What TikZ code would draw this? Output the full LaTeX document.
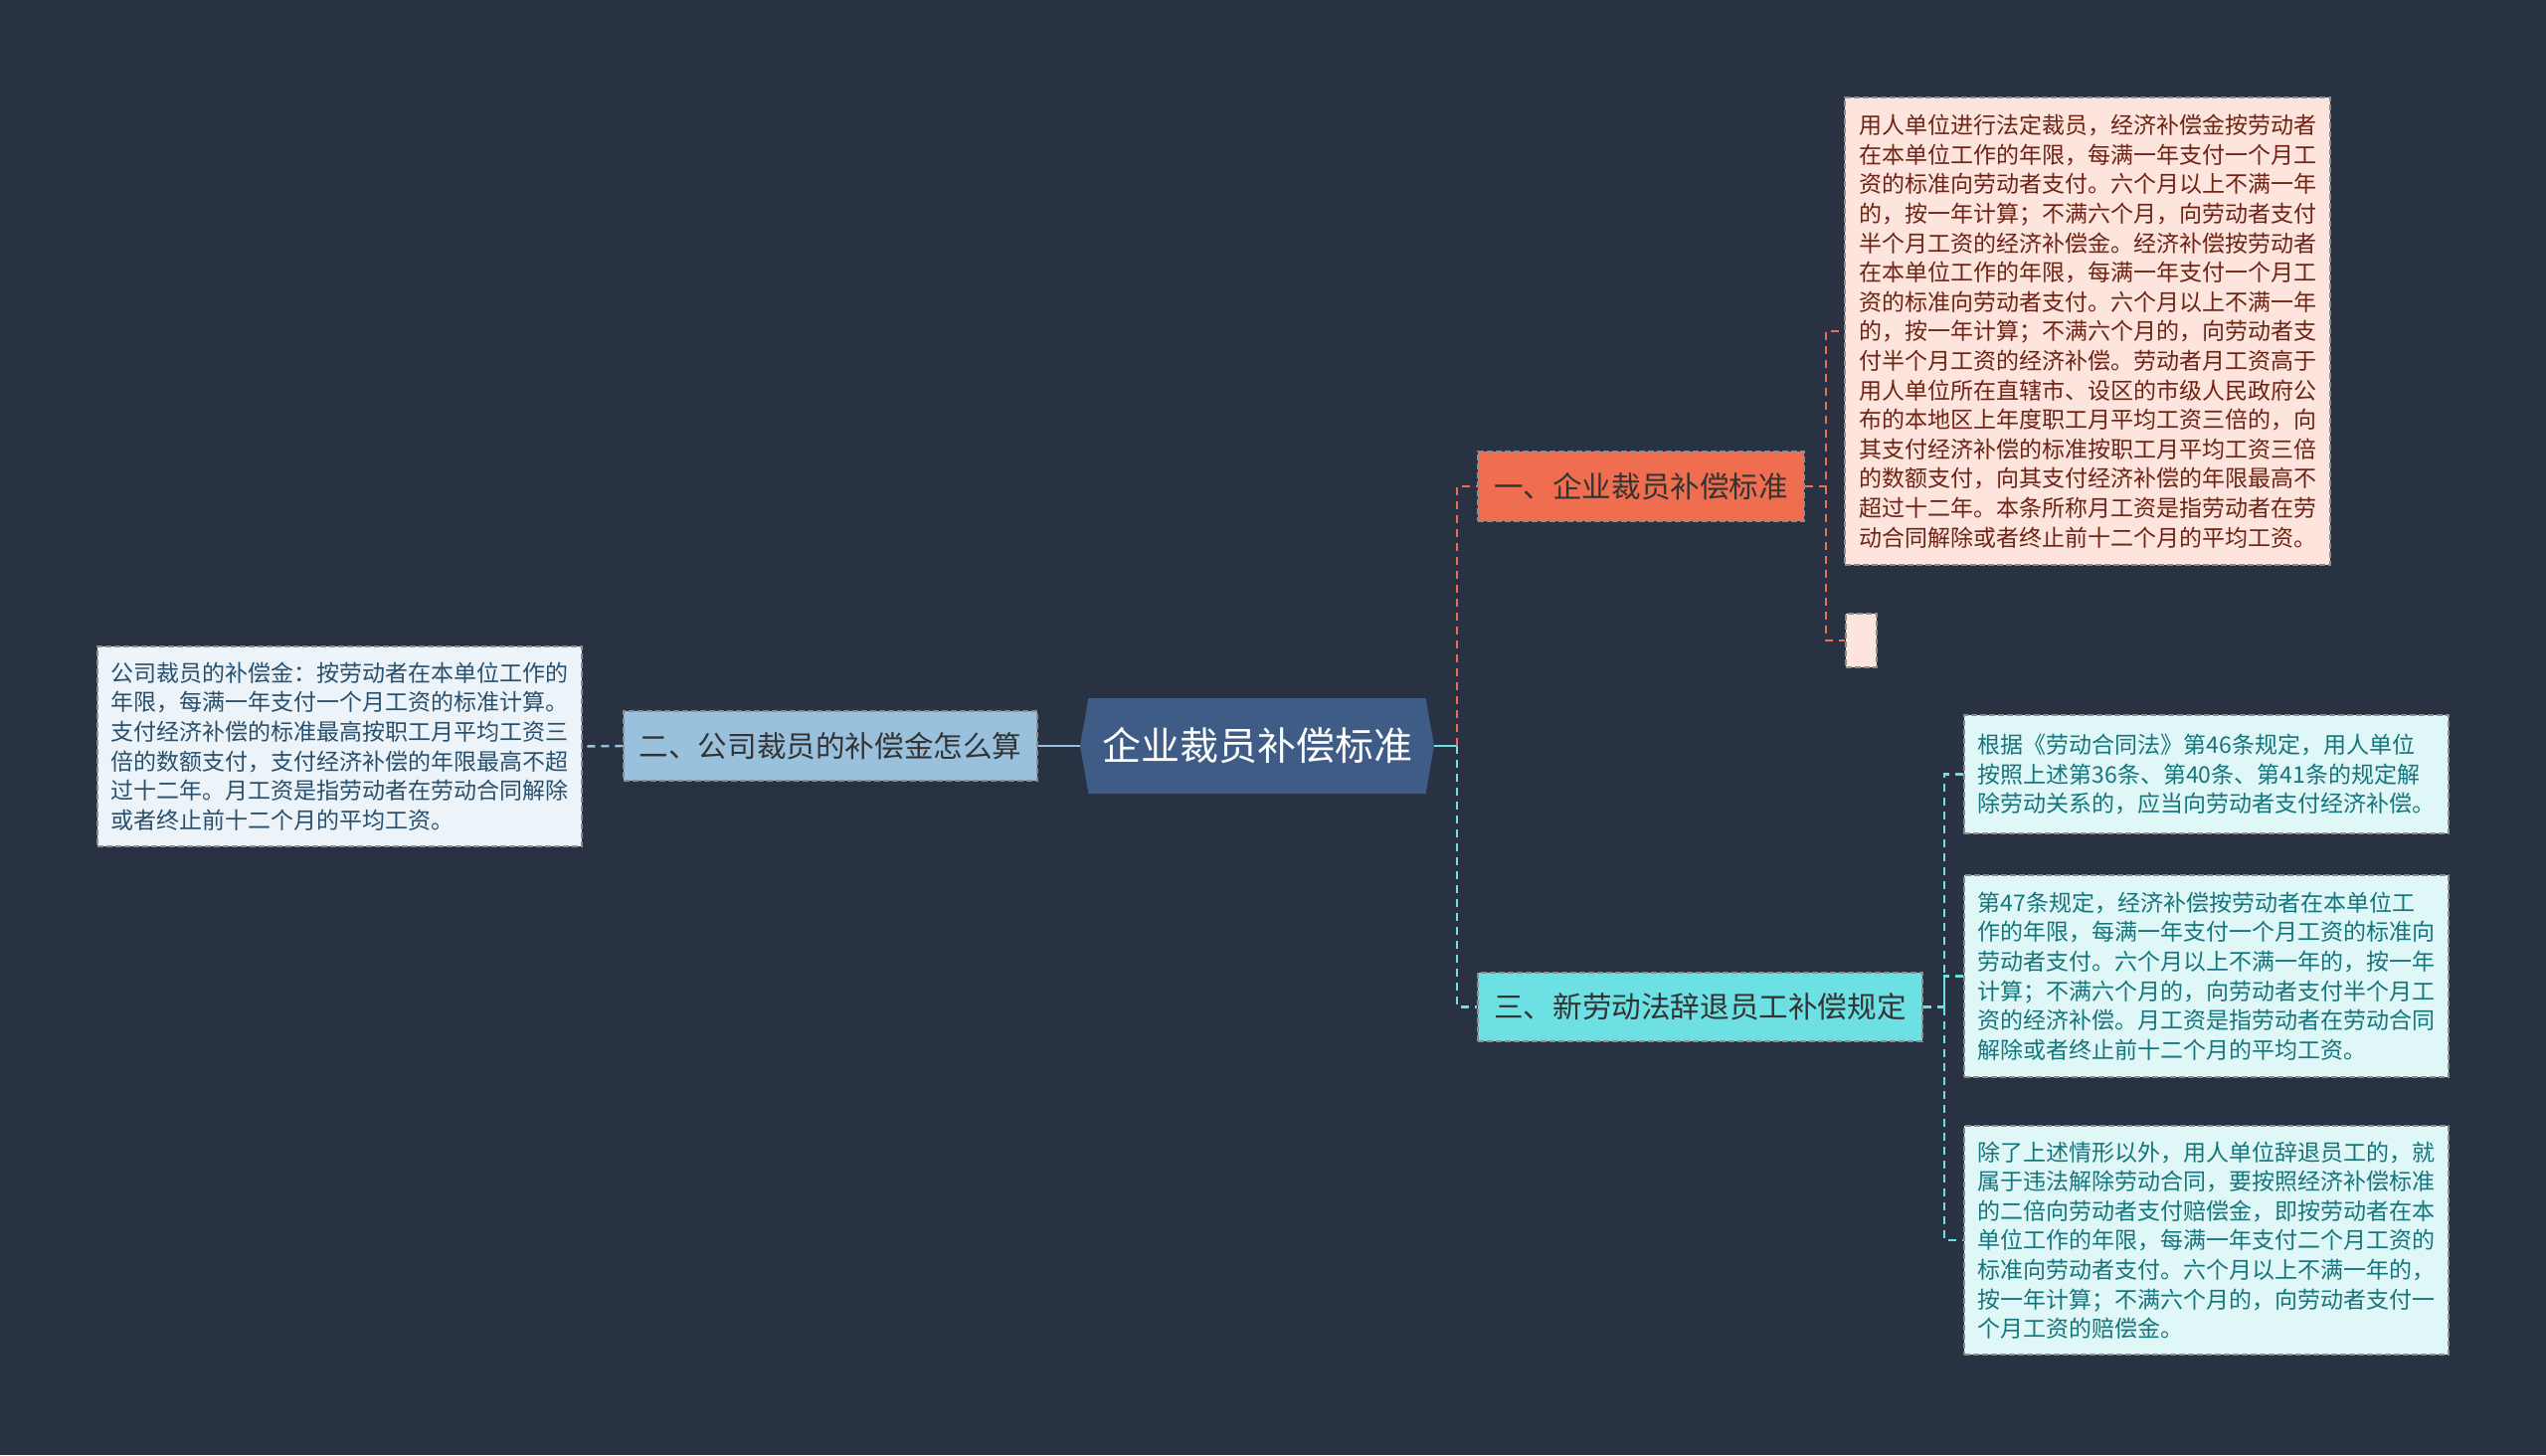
\documentclass[tikz,border=0pt]{standalone}
\usepackage{fontspec}
\setmainfont{Noto Sans CJK SC}
\usepackage{xcolor}
\usetikzlibrary{shapes,positioning}

\definecolor{bgnavy}{RGB}{41,50,66}
\definecolor{rootblue}{RGB}{62,92,133}
\definecolor{orangetopic}{RGB}{238,110,79}
\definecolor{bluetopic}{RGB}{153,193,221}
\definecolor{cyantopic}{RGB}{109,224,227}
\definecolor{pinkleaf}{RGB}{253,228,220}
\definecolor{blueleaf}{RGB}{237,244,249}
\definecolor{cyanleaf}{RGB}{224,247,248}
\definecolor{pinktext}{RGB}{110,35,20}
\definecolor{bluetext}{RGB}{40,80,110}
\definecolor{cyantext}{RGB}{20,118,124}

\begin{document}
\begin{tikzpicture}[x=0.5pt, y=-0.5pt,
    topic/.style={rectangle, draw=black!45, dash pattern=on 3pt off 1.5pt, line width=0.6pt, inner sep=0pt, text=black!80, font=\fontsize{14.8}{17}\selectfont},
    leaf/.style={rectangle, draw=black!45, dash pattern=on 3pt off 1.5pt, line width=0.6pt, inner sep=0pt, align=left, font=\fontsize{11.5}{14.8}\selectfont},
    link/.style={line width=1.2pt, dash pattern=on 4pt off 3pt}]
    \useasboundingbox[fill=bgnavy] (0,0) rectangle (2560,1463);

    \node[signal, signal to=east and west, signal pointer angle=160, fill=rootblue, text=white, inner sep=0pt, minimum width=178pt, minimum height=48pt, font=\fontsize{19.5}{22}\selectfont] (root) at (1264,750) {企业裁员补偿标准};

    \node[topic, fill=orangetopic, minimum width=164pt, minimum height=35pt] (sub1) at (1650,489) {一、企业裁员补偿标准};
    \node[topic, fill=bluetopic, minimum width=208pt, minimum height=35pt] (sub2) at (835,750) {二、公司裁员的补偿金怎么算};
    \node[topic, fill=cyantopic, minimum width=223.5pt, minimum height=34.5pt] (sub3) at (1709.5,1012.5) {三、新劳动法辞退员工补偿规定};

    \node[leaf, fill=pinkleaf, text=pinktext, minimum width=244pt, minimum height=235pt] (leaf1a) at (2099,333) {用人单位进行法定裁员，经济补偿金按劳动者\\在本单位工作的年限，每满一年支付一个月工\\资的标准向劳动者支付。六个月以上不满一年\\的，按一年计算；不满六个月，向劳动者支付\\半个月工资的经济补偿金。经济补偿按劳动者\\在本单位工作的年限，每满一年支付一个月工\\资的标准向劳动者支付。六个月以上不满一年\\的，按一年计算；不满六个月的，向劳动者支\\付半个月工资的经济补偿。劳动者月工资高于\\用人单位所在直辖市、设区的市级人民政府公\\布的本地区上年度职工月平均工资三倍的，向\\其支付经济补偿的标准按职工月平均工资三倍\\的数额支付，向其支付经济补偿的年限最高不\\超过十二年。本条所称月工资是指劳动者在劳\\动合同解除或者终止前十二个月的平均工资。};
    \node[leaf, fill=pinkleaf, minimum width=15.5pt, minimum height=27pt] (leaf1b) at (1871.5,644) {};

    \node[leaf, fill=blueleaf, text=bluetext, minimum width=243.5pt, minimum height=100.5pt] (leaf2) at (341.5,750.5) {公司裁员的补偿金：按劳动者在本单位工作的\\年限，每满一年支付一个月工资的标准计算。\\支付经济补偿的标准最高按职工月平均工资三\\倍的数额支付，支付经济补偿的年限最高不超\\过十二年。月工资是指劳动者在劳动合同解除\\或者终止前十二个月的平均工资。};

    \node[leaf, fill=cyanleaf, text=cyantext, minimum width=243.5pt, minimum height=59.5pt] (leaf3a) at (2218.5,778.5) {根据《劳动合同法》第46条规定，用人单位\\按照上述第36条、第40条、第41条的规定解\\除劳动关系的，应当向劳动者支付经济补偿。};
    \node[leaf, fill=cyanleaf, text=cyantext, minimum width=243.5pt, minimum height=101.5pt] (leaf3b) at (2218.5,981.5) {第47条规定，经济补偿按劳动者在本单位工\\作的年限，每满一年支付一个月工资的标准向\\劳动者支付。六个月以上不满一年的，按一年\\计算；不满六个月的，向劳动者支付半个月工\\资的经济补偿。月工资是指劳动者在劳动合同\\解除或者终止前十二个月的平均工资。};
    \node[leaf, fill=cyanleaf, text=cyantext, minimum width=243.5pt, minimum height=115pt] (leaf3c) at (2218.5,1247) {除了上述情形以外，用人单位辞退员工的，就\\属于违法解除劳动合同，要按照经济补偿标准\\的二倍向劳动者支付赔偿金，即按劳动者在本\\单位工作的年限，每满一年支付二个月工资的\\标准向劳动者支付。六个月以上不满一年的，\\按一年计算；不满六个月的，向劳动者支付一\\个月工资的赔偿金。};

    % forks
    \coordinate (fork) at (1465,750);
    \coordinate (fork1) at (1836,489);
    \coordinate (fork3) at (1955,1012.5);

    \draw[line width=1.2pt, cyantopic] (root.east) -- (fork);
    \draw[link, orangetopic] (fork) |- (sub1.west);
    \draw[link, cyantopic] (fork) |- (sub3.west);
    \draw[line width=1.2pt, bluetopic] (root.west) -- (sub2.east);
    \draw[link, bluetopic] (sub2.west) -- (leaf2.east);

    \draw[link, orangetopic] (sub1.east) -- (fork1) |- (leaf1a.west);
    \draw[link, orangetopic] (fork1) |- (leaf1b.west);

    \draw[link, cyantopic] (sub3.east) -- (fork3) |- (leaf3a.west);
    \draw[link, cyantopic] (fork3) |- (leaf3b.west);
    \draw[link, cyantopic] (fork3) |- (leaf3c.west);
\end{tikzpicture}
\end{document}
